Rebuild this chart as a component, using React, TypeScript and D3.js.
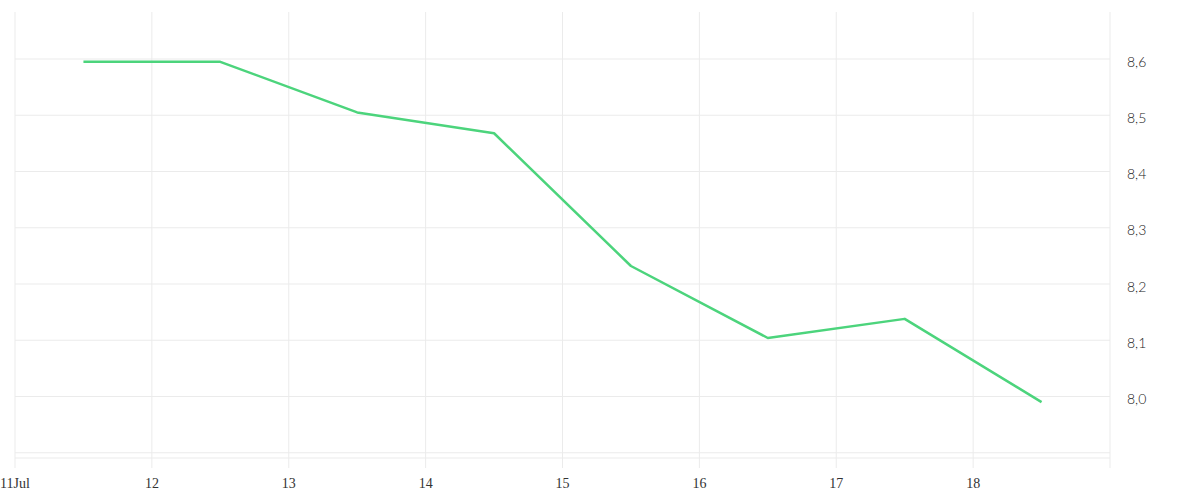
import React from "react";
import * as d3 from "d3";

const dates: string[] = [
  "2024-07-11T12:00",
  "2024-07-12T12:00",
  "2024-07-13T12:00",
  "2024-07-14T12:00",
  "2024-07-15T12:00",
  "2024-07-16T12:00",
  "2024-07-17T12:00",
  "2024-07-18T12:00",
];
const values: number[] = [8.595, 8.595, 8.505, 8.468, 8.232, 8.104, 8.138, 7.99];
const yTicks: number[] = [8.0, 8.1, 8.2, 8.3, 8.4, 8.5, 8.6];
const yGrid: number[] = [7.9, 8.0, 8.1, 8.2, 8.3, 8.4, 8.5, 8.6];
const xStart = "2024-07-11T00:00";
const xEnd = "2024-07-19T00:00";

const W = 1200;
const H = 500;
const left = 15;
const right = 1110;
const top = 12;
const bottom = 458;

export default function App() {
  const parse = d3.timeParse("%Y-%m-%dT%H:%M");
  const x = d3
    .scaleTime()
    .domain([parse(xStart)!, parse(xEnd)!])
    .range([left, right]);
  const y = d3.scaleLinear().domain([8.0, 8.6]).range([396.5, 59]);
  const days = d3.timeDay.range(parse(xStart)!, d3.timeDay.offset(parse(xEnd)!, 1));
  const pts: [Date, number][] = dates.map((d, i) => [parse(d)!, values[i]]);
  const line = d3
    .line<[Date, number]>()
    .x((d) => x(d[0]))
    .y((d) => y(d[1]));
  const fmt = (d: Date, i: number) =>
    i === 0 ? `${d.getDate()}Jul` : `${d.getDate()}`;
  const gridColor = "#ebebeb";

  return (
    <svg
      width={W}
      height={H}
      style={{ position: "absolute", left: 0, top: 0, background: "#fff" }}
    >
      {yGrid.map((v) => (
        <line
          key={"h" + v}
          x1={left}
          x2={right}
          y1={y(v)}
          y2={y(v)}
          stroke={gridColor}
          strokeWidth={1}
        />
      ))}
      <line x1={left} x2={right} y1={bottom} y2={bottom} stroke={gridColor} strokeWidth={1} />
      {days.map((d, i) => (
        <line
          key={"v" + i}
          x1={x(d)}
          x2={x(d)}
          y1={top}
          y2={bottom + 10}
          stroke={gridColor}
          strokeWidth={1}
        />
      ))}
      {days.slice(0, days.length - 1).map((d, i) => (
        <text
          key={"xt" + i}
          x={x(d)}
          y={488}
          textAnchor="middle"
          fontFamily="'Liberation Serif', 'Times New Roman', serif"
          fontSize={14}
          fill="#333"
        >
          {fmt(d, i)}
        </text>
      ))}
      {yTicks.map((v) => (
        <text
          key={"yt" + v}
          x={1127}
          y={y(v) + 7.5}
          fontFamily="Lato, sans-serif"
          fontWeight={300}
          fontSize={14}
          fill="#222"
        >
          {v.toFixed(1).replace(".", ",")}
        </text>
      ))}
      <path
        d={line(pts) || ""}
        fill="none"
        stroke="#4cd47c"
        strokeWidth={2.5}
        strokeLinejoin="round"
      />
    </svg>
  );
}
